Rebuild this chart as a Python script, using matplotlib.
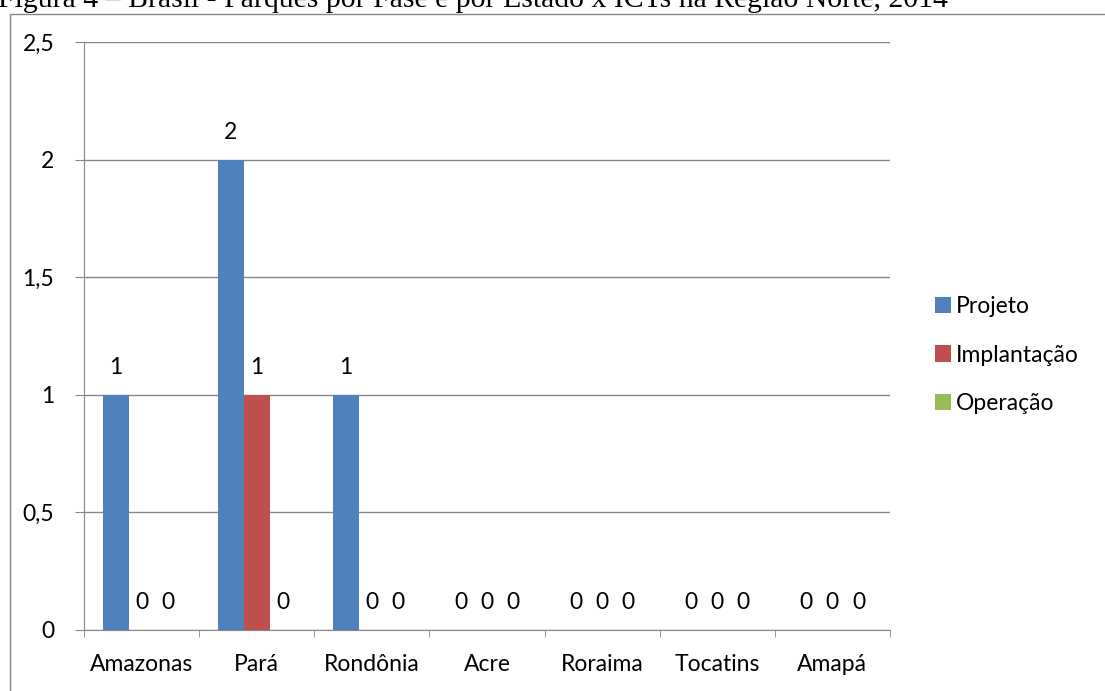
import matplotlib.pyplot as plt
import numpy as np
from matplotlib.patches import Rectangle

estados = ["Amazonas", "Pará", "Rondônia", "Acre", "Roraima", "Tocatins", "Amapá"]
projeto = [1, 2, 1, 0, 0, 0, 0]
implantacao = [0, 1, 0, 0, 0, 0, 0]
operacao = [0, 0, 0, 0, 0, 0, 0]
series = ["Projeto", "Implantação", "Operação"]
cores = ["#4F81BD", "#C0504D", "#9BBB59"]
y_ticks = [0, 0.5, 1, 1.5, 2, 2.5]
y_labels = ["0", "0,5", "1", "1,5", "2", "2,5"]
titulo = "Figura 4 – Brasil - Parques por Fase e por Estado x ICTs na Região Norte, 2014"

W, H = 1105, 691
fs = 16.5
fig = plt.figure(figsize=(W / 100, H / 100), dpi=100)
plt.rcParams["font.family"] = ["Lato", "DejaVu Sans"]

# moldura externa do grafico (continua fora da imagem)
fig.patches.append(Rectangle((10 / W, -0.1), 1.2, 1.1 - 14 / H, transform=fig.transFigure,
                             fill=False, edgecolor="#868686", linewidth=1.0))

# titulo cortado no topo, como no original
fig.text(-2 / W, 1 - 7 / H, titulo, family="Liberation Serif", fontsize=21.4,
         ha="left", va="baseline", color="black")

ax = fig.add_axes([84 / W, (H - 630) / H, (890 - 84) / W, (630 - 42) / H])

x = np.arange(len(estados))
larg = 0.226
for i, (vals, nome, cor) in enumerate(zip([projeto, implantacao, operacao], series, cores)):
    barras = ax.bar(x + (i - 1) * larg, vals, larg, color=cor, label=nome, zorder=3)
    ax.bar_label(barras, fmt="%d", padding=12, fontsize=fs, color="black")

ax.set_xlim(-0.5, len(estados) - 0.5)
ax.set_ylim(0, 2.5)
ax.set_yticks(y_ticks)
ax.set_yticklabels(y_labels)
ax.set_xticks(x)
ax.set_xticklabels(estados)
ax.set_xticks(np.arange(len(estados) + 1) - 0.5, minor=True)
ax.tick_params(axis="x", which="major", length=0, pad=17, labelsize=fs)
ax.tick_params(axis="x", which="minor", length=5, color="#868686", direction="out")
ax.tick_params(axis="y", length=6.5, color="#868686", pad=15, labelsize=fs)
ax.grid(axis="y", color="#868686", linewidth=1.0, zorder=0)
for lado in ["top", "right"]:
    ax.spines[lado].set_visible(False)
for lado in ["left", "bottom"]:
    ax.spines[lado].set_color("#868686")
    ax.spines[lado].set_zorder(4)

fig.legend(loc="center left", bbox_to_anchor=(935 / W, 1 - 355 / H), frameon=False,
           fontsize=fs, handlelength=0.7, handleheight=0.7, handletextpad=0.2,
           labelspacing=1.2, borderpad=0, borderaxespad=0)

fig.savefig("out.png", dpi=100)
